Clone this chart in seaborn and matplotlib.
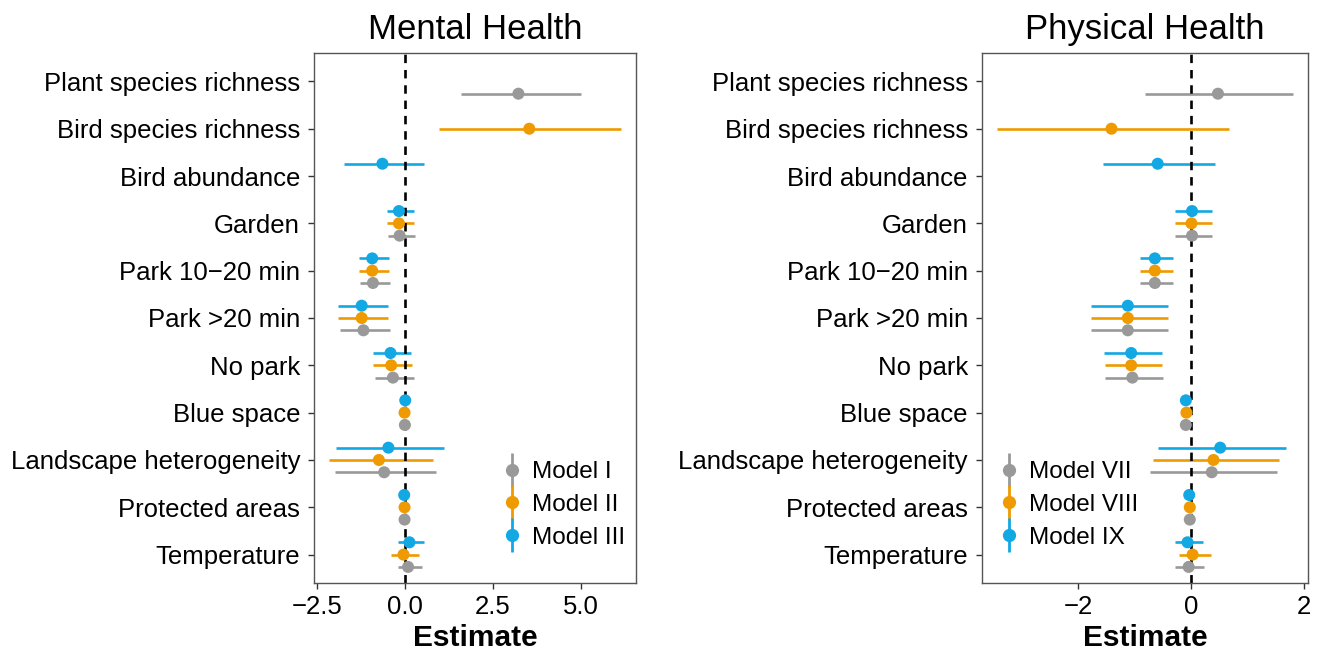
import numpy as np
import pandas as pd
import matplotlib
matplotlib.use("Agg")
import matplotlib.pyplot as plt
import seaborn as sns
from matplotlib.lines import Line2D
from matplotlib.legend_handler import HandlerTuple

sns.set_theme(style="white")
plt.rcParams['font.family'] = ['Liberation Sans', 'DejaVu Sans']
plt.rcParams['axes.unicode_minus'] = True
plt.rcParams['text.color'] = 'black'
plt.rcParams['axes.labelcolor'] = 'black'
plt.rcParams['axes.titlecolor'] = 'black'

nan = np.nan

categories = ["Plant species richness", "Bird species richness", "Bird abundance",
              "Garden", "Park 10\u221220 min", "Park >20 min", "No park",
              "Blue space", "Landscape heterogeneity", "Protected areas", "Temperature"]

# ---- Mental Health ----
mental_models = ["Model I", "Model II", "Model III"]
m1_est = [3.22, nan, nan, -0.16, -0.92, -1.19, -0.35, -0.01, -0.60, -0.02, 0.08]
m1_lo  = [1.58, nan, nan, -0.48, -1.29, -1.85, -0.86, -0.05, -1.99, -0.05, -0.22]
m1_hi  = [4.99, nan, nan,  0.29, -0.44, -0.44,  0.24,  0.03,  0.87,  0.01,  0.49]

m2_est = [nan, 3.53, nan, -0.18, -0.94, -1.24, -0.40, -0.02, -0.75, -0.02, -0.05]
m2_lo  = [nan, 0.95, nan, -0.51, -1.31, -1.90, -0.91, -0.06, -2.18, -0.05, -0.40]
m2_hi  = [nan, 6.15, nan,  0.26, -0.46, -0.48,  0.19,  0.02,  0.78,  0.01,  0.38]

m3_est = [nan, nan, -0.65, -0.18, -0.94, -1.24, -0.42, 0.00, -0.48, -0.03, 0.12]
m3_lo  = [nan, nan, -1.74, -0.51, -1.31, -1.90, -0.93, -0.04, -1.97, -0.06, -0.21]
m3_hi  = [nan, nan,  0.54,  0.26, -0.46, -0.48,  0.17,  0.04,  1.09,  0.00, 0.52]

# ---- Physical Health ----
physical_models = ["Model VII", "Model VIII", "Model IX"]
p7_est = [0.48, nan, nan, 0.02, -0.64, -1.12, -1.04, -0.09, 0.37, -0.02, -0.04]
p7_lo  = [-0.81, nan, nan, -0.28, -0.91, -1.77, -1.53, -0.12, -0.72, -0.04, -0.28]
p7_hi  = [1.82, nan, nan, 0.37, -0.31, -0.41, -0.50, -0.06, 1.53, 0.00, 0.24]

p8_est = [nan, -1.41, nan, 0.01, -0.64, -1.12, -1.06, -0.08, 0.40, -0.02, 0.03]
p8_lo  = [nan, -3.45, nan, -0.28, -0.91, -1.78, -1.53, -0.11, -0.68, -0.04, -0.22]
p8_hi  = [nan, 0.68, nan, 0.37, -0.31, -0.41, -0.51, -0.05, 1.56, 0.00, 0.35]

p9_est = [nan, nan, -0.59, 0.02, -0.64, -1.12, -1.06, -0.09, 0.52, -0.03, -0.06]
p9_lo  = [nan, nan, -1.56, -0.28, -0.91, -1.78, -1.54, -0.12, -0.59, -0.05, -0.29]
p9_hi  = [nan, nan, 0.43, 0.37, -0.31, -0.41, -0.52, -0.06, 1.69, -0.01, 0.22]

colors = ["#999999", "#EE9A00", "#12A8E4"]
offsets = [0.26, 0.0, -0.26]


def build(models, ests, los, his):
    rows = []
    for k, (m, e, l, h) in enumerate(zip(models, ests, los, his)):
        for i, c in enumerate(categories):
            if not np.isnan(e[i]):
                rows.append(dict(category=c, model=m, est=e[i], lo=l[i], hi=h[i],
                                 ypos=i + offsets[k], k=k))
    return pd.DataFrame(rows)


mental = build(mental_models, [m1_est, m2_est, m3_est], [m1_lo, m2_lo, m3_lo], [m1_hi, m2_hi, m3_hi])
physical = build(physical_models, [p7_est, p8_est, p9_est], [p7_lo, p8_lo, p9_lo], [p7_hi, p8_hi, p9_hi])

W, H = 1318, 651
fig = plt.figure(figsize=(W / 100, H / 100), dpi=100)
fig.patch.set_facecolor("white")

ax1 = fig.add_axes([314 / W, (H - 583) / H, 322 / W, 530 / H])
ax2 = fig.add_axes([981.7 / W, (H - 583) / H, 326.6 / W, 530 / H])


def draw(ax, df, models, title, ticks, fmt, legend_anchor):
    pal = dict(zip(models, colors))
    ax.axvline(0, color="black", lw=1.9, ls=(0, (3.2, 2.6)), zorder=2)
    for _, r in df.iterrows():
        ax.hlines(r.ypos, r.lo, r.hi, color=pal[r.model], lw=1.9, zorder=1.5)
    sns.scatterplot(data=df, x="est", y="ypos", hue="model", hue_order=models,
                    palette=pal, s=75, linewidth=0, ax=ax, legend=False, zorder=3)
    lo, hi = df.lo.min(), df.hi.max()
    span = hi - lo
    ax.set_xlim(lo - 0.05 * span, hi + 0.05 * span)
    ax.set_ylim(len(categories) - 1 + 0.6, -0.6)
    ax.set_yticks(range(len(categories)))
    ax.set_yticklabels(categories)
    ax.set_xticks(ticks)
    ax.set_xticklabels([fmt(t).replace("-", "\u2212") for t in ticks])
    ax.tick_params(axis="both", which="major", labelsize=18.5, length=4, width=1.0,
                   color="#333333", labelcolor="black", direction="out",
                   bottom=True, left=True)
    ax.tick_params(axis="y", pad=6)
    ax.tick_params(axis="x", pad=4.5)
    ax.set_ylabel("")
    ax.set_xlabel("Estimate", fontsize=21.5, fontweight="bold", labelpad=4, color="black")
    ax.set_title(title, fontsize=25, pad=10, color="black")
    for sp in ax.spines.values():
        sp.set_color("#555555")
        sp.set_linewidth(1.0)
    handles = [(Line2D([], [], color=c, marker="|", markersize=24, mew=2.0, linestyle="None"),
                Line2D([], [], color=c, marker="o", markersize=8.5, linestyle="None"))
               for c in colors]
    ax.legend(handles, models, handler_map={tuple: HandlerTuple(ndivide=1)},
              loc="upper left", bbox_to_anchor=legend_anchor, frameon=False,
              fontsize=17.5, handlelength=1.0, handletextpad=0.3, labelspacing=0.45,
              borderpad=0, borderaxespad=0)


draw(ax1, mental, mental_models, "Mental Health", [-2.5, 0, 2.5, 5.0],
     lambda t: f"{t:.1f}", ((500 - 314) / 322, (583 - 461) / 530))
draw(ax2, physical, physical_models, "Physical Health", [-2, 0, 2],
     lambda t: f"{t:.0f}", ((997 - 981.7) / 326.6, (583 - 461) / 530))

fig.savefig("out.png", dpi=100, facecolor="white")
